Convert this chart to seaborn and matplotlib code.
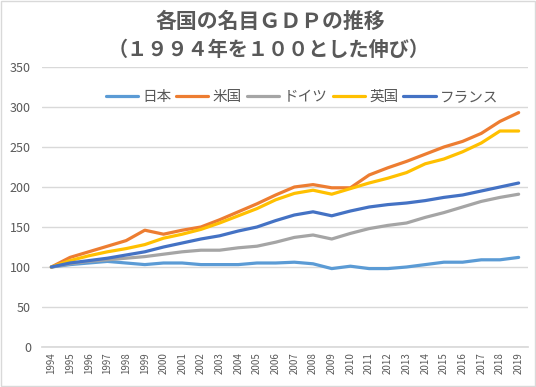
import pandas as pd
import seaborn as sns
import matplotlib.pyplot as plt
from matplotlib.patches import Rectangle

years = list(range(1994, 2020))
japan = [100, 103, 105, 107, 105, 103, 105, 105, 103, 103, 103, 105, 105,
         106, 104, 98, 101, 98, 98, 100, 103, 106, 106, 109, 109, 112]
usa = [100, 112, 119, 126, 133, 146, 141, 146, 150, 159, 169, 179, 190,
       200, 203, 199, 199, 215, 224, 232, 241, 250, 257, 267, 282, 293]
germany = [100, 104, 107, 109, 111, 113, 116, 119, 121, 121, 124, 126, 131,
           137, 140, 135, 142, 148, 152, 155, 162, 168, 175, 182, 187, 191]
uk = [100, 108, 114, 119, 123, 128, 136, 141, 147, 155, 164, 173, 184,
      192, 196, 191, 198, 205, 211, 218, 229, 235, 244, 255, 270, 270]
france = [100, 105, 108, 111, 115, 119, 125, 130, 135, 139, 145, 150, 158,
          165, 169, 164, 170, 175, 178, 180, 183, 187, 190, 195, 200, 205]

countries = ["日本", "米国", "ドイツ", "英国", "フランス"]
colors = ["#5B9BD5", "#ED7D31", "#A5A5A5", "#FFC000", "#4472C4"]
series = [japan, usa, germany, uk, france]

rows = []
for name, vals in zip(countries, series):
    for y, v in zip(years, vals):
        rows.append({"year": y, "value": v, "country": name})
df = pd.DataFrame(rows)

sns.set_theme(style="white")
plt.rcParams["font.family"] = ["Noto Sans CJK JP", "DejaVu Sans"]

fig = plt.figure(figsize=(5.36, 3.87), dpi=100)
ax = fig.add_axes([42 / 536, 1 - 347 / 387, 486 / 536, 280 / 387])

sns.lineplot(data=df, x="year", y="value", hue="country", hue_order=countries,
             palette=colors, linewidth=2.3, ax=ax)

ax.set_xlim(1993.5, 2019.5)
ax.set_ylim(0, 350)
ax.set_yticks(range(0, 351, 50))
ax.set_xticks(years)
ax.set_xticklabels([str(y) for y in years], rotation=90, fontsize=7, color="#595959")
ax.tick_params(axis="y", labelsize=9, labelcolor="#595959", length=0, pad=8)
ax.tick_params(axis="x", length=0, pad=4)
ax.set_xlabel("")
ax.set_ylabel("")
ax.grid(axis="y", color="#d9d9d9", linewidth=1)
for s in ["top", "right", "left"]:
    ax.spines[s].set_visible(False)
ax.spines["bottom"].set_color("#d9d9d9")

# 凡例はグラフ内の上部
ax.legend(loc="center", bbox_to_anchor=(0.535, 0.893), ncol=5, frameon=False,
          fontsize=10.5, handlelength=2.2, columnspacing=0.35, handletextpad=0.3,
          labelcolor="#595959")

fig.text(0.505, 0.945, "各国の名目ＧＤＰの推移", ha="center", va="center",
         fontsize=15, fontweight="bold", color="#595959")
fig.text(0.502, 0.872, "（１９９４年を１００とした伸び）", ha="center", va="center",
         fontsize=14.5, fontweight="bold", color="#595959")

fig.patches.append(Rectangle((0.002, 0.002), 0.996, 0.996, transform=fig.transFigure,
                             fill=False, edgecolor="#d9d9d9", linewidth=1))

fig.savefig("out.png", dpi=100)
